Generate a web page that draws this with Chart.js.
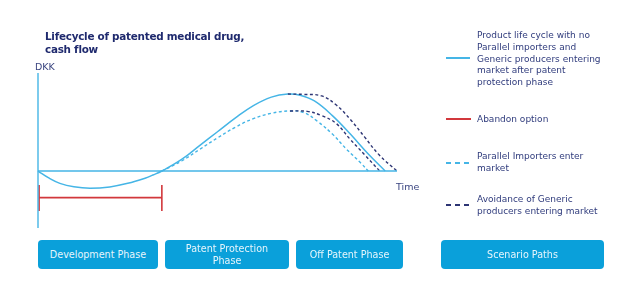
<!DOCTYPE html>
<html>
<head>
<meta charset="utf-8">
<script src="https://cdn.jsdelivr.net/npm/chart.js@4/dist/chart.umd.min.js"></script>
<style>
  html, body { margin: 0; padding: 0; background: #ffffff; }
  #wrap { position: relative; width: 624px; height: 285px; overflow: hidden; font-family: "DejaVu Sans", Verdana, sans-serif; }
  #c { position: absolute; left: 0; top: 0; }
  .txt { position: absolute; white-space: nowrap; color: #2f3b7c; }
  .title { left: 45px; top: 30px; font-weight: bold; font-size: 10.4px; line-height: 13px; color: #1f2a6e; letter-spacing: -0.25px; }
  .axl { font-size: 9.5px; color: #3a4580; }
  .box { position: absolute; background: #0aa0da; color: #e6f5fc; border-radius: 4px; display: flex; align-items: center; justify-content: center; text-align: center; font-size: 9.6px; line-height: 12px; }
  .leg { position: absolute; left: 477px; font-size: 9px; line-height: 11.8px; color: #2f3b7c; white-space: nowrap; }
  .sample { position: absolute; left: 446px; height: 2px; }
</style>
</head>
<body>
<div id="wrap">
  <canvas id="c" width="624" height="285"></canvas>
  <div class="txt title">Lifecycle of patented medical drug,<br>cash flow</div>
  <div class="txt axl" style="left:35px; top:61px;">DKK</div>
  <div class="txt axl" style="left:396px; top:181px;">Time</div>
  <div id="boxes"></div>
  <div id="legend"></div>
</div>
<script>
// ---- Data (time units 0..10, cash flow in relative DKK, peak = 100) ----
const axisTime = [0, 10];
const axisCashRange = [-74, 127.3];

const solidTime = [0, 0.3, 0.61, 1.0, 1.45, 2.0, 2.5, 3.0, 3.2, 3.45, 4.0, 4.5, 5.0, 5.5, 6.0, 6.5, 6.96, 7.3, 7.7, 8.2, 8.7, 9.2, 9.67];
const solidCash = [0, -9, -16, -20.5, -22.3, -20.6, -16, -9, -5.2, 0, 15, 33, 51, 69, 85, 96, 100, 98.5, 91, 72, 48, 22, 0];

const parallelTime = [3.45, 4.0, 4.5, 5.0, 5.5, 6.0, 6.5, 7.0, 7.4, 7.8, 8.2, 8.6, 9.0, 9.2];
const parallelCash = [0, 13, 28, 43, 57, 68, 75, 78, 76, 64, 48, 28, 10, 0];

const genericHighTime = [6.96, 7.4, 7.9, 8.3, 8.7, 9.1, 9.5, 10.0];
const genericHighCash = [100, 99.5, 97.5, 86, 67, 44, 21, 0];

const genericLowTime = [7.02, 7.5, 7.9, 8.3, 8.7, 9.1, 9.52];
const genericLowCash = [78, 77.5, 72, 62, 41, 21, 0];

const abandonStart = 0.03;
const abandonEnd = 3.45;
const abandonLevel = -34.5;
const abandonCapRange = [-18.2, -51.9];

const phaseLabels = ["Development Phase", "Patent Protection<br>Phase", "Off Patent Phase", "Scenario Paths"];
const legendLabels = [
  "Product life cycle with no<br>Parallel importers and<br>Generic producers entering<br>market after patent<br>protection phase",
  "Abandon option",
  "Parallel Importers enter<br>market",
  "Avoidance of Generic<br>producers entering market"
];

// ---- Styles ----
const lightBlue = "#45b5e6";
const navy = "#2d3574";
const red = "#d2383c";

const pts = (xs, ys) => xs.map((x, i) => ({ x: x, y: ys[i] }));

const abandonData = [
  { x: abandonStart, y: abandonCapRange[0] }, { x: abandonStart, y: abandonCapRange[1] }, { x: abandonStart, y: null },
  { x: abandonStart, y: abandonLevel }, { x: abandonEnd, y: abandonLevel }, { x: abandonEnd, y: null },
  { x: abandonEnd, y: abandonCapRange[0] }, { x: abandonEnd, y: abandonCapRange[1] }
];

const base = { showLine: true, pointRadius: 0, clip: false, fill: false };
const dash = [3, 2.5];

new Chart(document.getElementById("c"), {
  type: "scatter",
  data: {
    datasets: [
      Object.assign({}, base, { label: "y-axis", data: [{ x: 0, y: axisCashRange[0] }, { x: 0, y: axisCashRange[1] }], borderColor: lightBlue, borderWidth: 1.4, tension: 0 }),
      Object.assign({}, base, { label: "x-axis", data: [{ x: axisTime[0], y: 0 }, { x: axisTime[1], y: 0 }], borderColor: lightBlue, borderWidth: 1.4, tension: 0 }),
      Object.assign({}, base, { label: "Abandon option", data: abandonData, borderColor: red, borderWidth: 1.6, tension: 0, spanGaps: false }),
      Object.assign({}, base, { label: "Avoidance high", data: pts(genericHighTime, genericHighCash), borderColor: navy, borderWidth: 1.4, borderDash: dash, tension: 0.4 }),
      Object.assign({}, base, { label: "Avoidance low", data: pts(genericLowTime, genericLowCash), borderColor: navy, borderWidth: 1.4, borderDash: dash, tension: 0.4 }),
      Object.assign({}, base, { label: "Parallel importers", data: pts(parallelTime, parallelCash), borderColor: lightBlue, borderWidth: 1.4, borderDash: dash, tension: 0.4 }),
      Object.assign({}, base, { label: "Product life cycle", data: pts(solidTime, solidCash), borderColor: lightBlue, borderWidth: 1.5, tension: 0.4 })
    ]
  },
  options: {
    responsive: false,
    devicePixelRatio: 1,
    animation: false,
    layout: { padding: { left: 38, right: 227, top: 73, bottom: 57 } },
    plugins: { legend: { display: false }, tooltip: { enabled: false } },
    scales: {
      x: { type: "linear", display: false, min: axisTime[0], max: axisTime[1] },
      y: { type: "linear", display: false, min: axisCashRange[0], max: axisCashRange[1] }
    }
  }
});

// ---- Phase boxes ----
const boxGeom = [[38, 120], [165, 124], [296, 107], [441, 163]];
const boxesEl = document.getElementById("boxes");
phaseLabels.forEach((lab, i) => {
  const d = document.createElement("div");
  d.className = "box";
  d.style.left = boxGeom[i][0] + "px";
  d.style.top = "240px";
  d.style.width = boxGeom[i][1] + "px";
  d.style.height = "29px";
  d.innerHTML = lab;
  boxesEl.appendChild(d);
});

// ---- Legend ----
const legTop = [30, 113.5, 151, 194];
const legSampleY = [57, 118, 161.5, 204];
const legSampleW = [24, 25, 23, 23];
const legSampleBg = [
  lightBlue,
  red,
  "repeating-linear-gradient(90deg, " + lightBlue + " 0 5px, transparent 5px 9px)",
  "repeating-linear-gradient(90deg, " + navy + " 0 5px, transparent 5px 9px)"
];
const legEl = document.getElementById("legend");
legendLabels.forEach((lab, i) => {
  const s = document.createElement("div");
  s.className = "sample";
  s.style.top = legSampleY[i] + "px";
  s.style.width = legSampleW[i] + "px";
  s.style.background = legSampleBg[i];
  legEl.appendChild(s);
  const t = document.createElement("div");
  t.className = "leg";
  t.style.top = legTop[i] + "px";
  t.innerHTML = lab;
  legEl.appendChild(t);
});
</script>
</body>
</html>
